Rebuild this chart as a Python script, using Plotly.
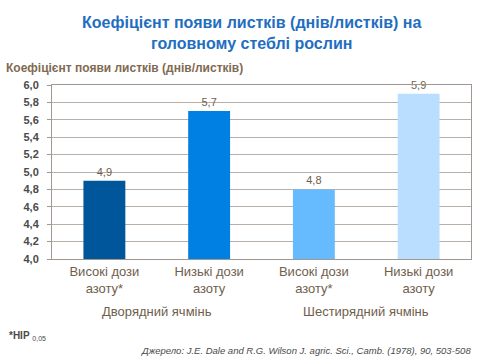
import plotly.graph_objects as go

categories = ["Високі дози<br>азоту*", "Низькі дози<br>азоту", "Високі дози<br>азоту*", "Низькі дози<br>азоту"]
values = [4.9, 5.7, 4.8, 5.9]
value_labels = ["4,9", "5,7", "4,8", "5,9"]
colors = ["#00569B", "#0080E2", "#66BBFF", "#BADEFF"]
groups = ["Дворядний ячмінь", "Шестирядний ячмінь"]
y_base = 4.0

brown = "#6F5E4C"
fnt = "Liberation Sans, Arial, sans-serif"

W, H = 480, 360
ML, MR, MT, MB = 52, 9, 85, 101


def px_to_paper_y(py):
    return (H - MB - py) / (H - MT - MB)


def px_to_paper_x(px):
    return (px - ML) / (W - ML - MR)


fig = go.Figure()
fig.add_trace(go.Bar(
    x=[0, 1, 2, 3], y=[v - y_base for v in values], base=y_base,
    marker_color=colors, marker_line_width=0,
    text=value_labels, textposition="outside", cliponaxis=False,
    textfont=dict(family=fnt, size=11, color=brown),
    width=0.4,
))

fig.update_layout(
    width=W, height=H,
    margin=dict(l=ML, r=MR, t=MT, b=MB),
    paper_bgcolor="white", plot_bgcolor="white",
    showlegend=False,
    separators=", ",
    font=dict(family=fnt, color=brown),
)
fig.update_xaxes(
    range=[-0.5, 3.5], tickvals=[0, 1, 2, 3], ticktext=categories,
    tickfont=dict(family=fnt, size=13, color=brown),
    showline=True, linecolor="#A09890", linewidth=1, mirror=True,
    showgrid=False, ticks="", automargin=False,
)
fig.update_yaxes(
    range=[4.0, 6.0], tickvals=[4.0 + 0.2 * i for i in range(11)],
    tickformat=".1f", tickfont=dict(family=fnt, size=11, color="#4A4A4A", weight="bold"),
    showline=True, linecolor="#A09890", linewidth=1, mirror=True,
    showgrid=True, gridcolor="#B8B0A8", gridwidth=1,
    ticks="outside", ticklen=4, tickcolor="#A09890", ticklabelstandoff=6,
    automargin=False,
)

anns = [
    dict(text="<b>Коефіцієнт появи листків (днів/листків) на<br>головному стеблі рослин</b>",
         x=px_to_paper_x(251), y=px_to_paper_y(12), xref="paper", yref="paper",
         yanchor="top", xanchor="center", showarrow=False,
         font=dict(family=fnt, size=16, color="#1F6EC0")),
    dict(text="<b>Коефіцієнт появи листків (днів/листків)</b>",
         x=px_to_paper_x(4), y=px_to_paper_y(68), xref="paper", yref="paper",
         xanchor="left", yanchor="middle", showarrow=False,
         font=dict(family=fnt, size=12, color="#7F6A52")),
    dict(text=groups[0], x=0.5, xref="x", y=px_to_paper_y(311), yref="paper",
         yanchor="middle", showarrow=False, font=dict(family=fnt, size=13, color=brown)),
    dict(text=groups[1], x=2.5, xref="x", y=px_to_paper_y(311), yref="paper",
         yanchor="middle", showarrow=False, font=dict(family=fnt, size=13, color=brown)),
    dict(text="<b>*НІР</b> <sub>0,05</sub>", x=px_to_paper_x(7), y=px_to_paper_y(336),
         xref="paper", yref="paper", xanchor="left", yanchor="middle",
         showarrow=False, font=dict(family=fnt, size=10, color="#4A4A4A")),
    dict(text="<i>Джерело: J.E. Dale and R.G. Wilson J. agric. Sci., Camb. (1978), 90, 503-508</i>",
         x=px_to_paper_x(473), y=px_to_paper_y(350), xref="paper", yref="paper",
         xanchor="right", yanchor="middle",
         showarrow=False, font=dict(family=fnt, size=9.5, color="#4A4A4A")),
]
fig.update_layout(annotations=anns)

fig.write_html("out.html", config={"displayModeBar": False},
               post_script="document.body.style.margin='0';")
